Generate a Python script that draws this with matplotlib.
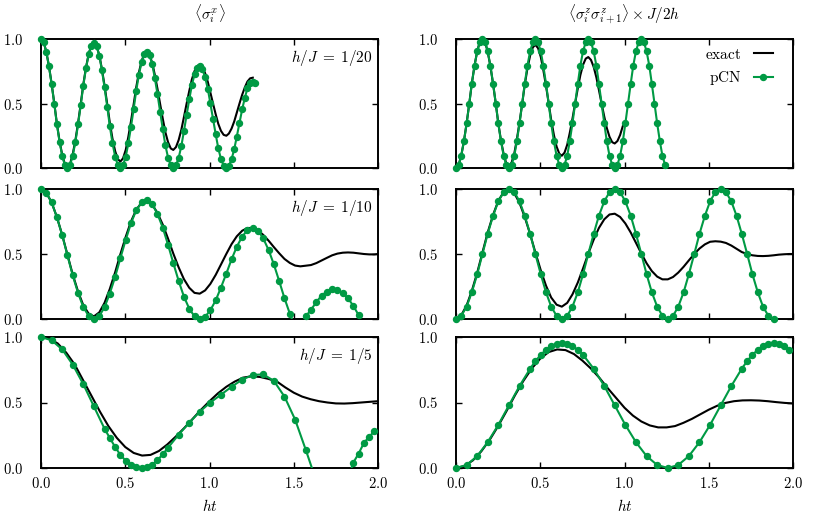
import numpy as np
import matplotlib
matplotlib.use('Agg')
import matplotlib.pyplot as plt
from matplotlib.lines import Line2D

plt.rcParams['mathtext.fontset'] = 'cm'
plt.rcParams['font.family'] = ['DejaVu Serif']

# ---------------- data ----------------
xticks = [0.0, 0.5, 1.0, 1.5, 2.0]
xtick_labels = ['0.0', '0.5', '1.0', '1.5', '2.0']
yticks = [0.0, 0.5, 1.0]
ytick_labels = ['0.0', '0.5', '1.0']
col_titles = [r'$\langle \sigma_i^x \rangle$', r'$\langle \sigma_i^z \sigma_{i+1}^z \rangle \times J/2h$']
row_labels = [r'$h/J\;=\;1/20$', r'$h/J\;=\;1/10$', r'$h/J\;=\;1/5$']
xlabel = r'$ht$'

# h/J = 1/20 : time grid
t20 = [0.000, 0.016, 0.031, 0.047, 0.063, 0.079, 0.094, 0.110, 0.126, 0.141,
       0.157, 0.173, 0.188, 0.204, 0.220, 0.236, 0.251, 0.267, 0.283, 0.298,
       0.314, 0.330, 0.346, 0.361, 0.377, 0.393, 0.408, 0.424, 0.440, 0.456,
       0.471, 0.487, 0.503, 0.518, 0.534, 0.550, 0.565, 0.581, 0.597, 0.613,
       0.628, 0.644, 0.660, 0.675, 0.691, 0.707, 0.723, 0.738, 0.754, 0.770,
       0.785, 0.801, 0.817, 0.833, 0.848, 0.864, 0.880, 0.895, 0.911, 0.927,
       0.942, 0.958, 0.974, 0.990, 1.005, 1.021, 1.037, 1.052, 1.068, 1.084,
       1.100, 1.115, 1.131, 1.147, 1.162, 1.178, 1.194, 1.210, 1.225, 1.241,
       1.257, 1.272]
sx_exact_20 = [1.00, .975, .903, .792, .654, .500, .347, .210, .101, .033,
               .010, .035, .105, .214, .349, .499, .647, .779, .884, .949,
               .970, .944, .875, .770, .640, .496, .355, .229, .131, .069,
               .050, .075, .141, .240, .362, .495, .625, .740, .830, .884,
               .900, .876, .816, .725, .616, .496, .380, .278, .200, .152,
               .140, .162, .217, .297, .393, .498, .598, .685, .751, .791,
               .800, .781, .735, .667, .586, .499, .415, .343, .288, .257,
               .250, .267, .306, .362, .429, .500, .568, .626, .670, .695,
               .700]
sx_pcn_20 = [1.00, .975, .902, .790, .651, .496, .342, .204, .094, .024,
             .000, .024, .093, .202, .338, .489, .639, .774, .881, .948,
             .970, .943, .872, .762, .626, .476, .327, .195, .089, .023,
             .000, .022, .088, .190, .318, .459, .599, .723, .821, .882,
             .900, .873, .805, .701, .575, .436, .299, .177, .081, .020,
             .000, .020, .079, .171, .284, .409, .532, .640, .725, .776,
             .790, .765, .704, .613, .502, .380, .260, .154, .070, .018,
             .000, .017, .068, .147, .244, .350, .455, .546, .617, .660,
             .670, .658]
zz_exact_20 = [0.000, .025, .096, .208, .347, .502, .657, .795, .906, .976,
               1.000, .974, .902, .790, .652, .500, .348, .213, .106, .037,
               .015, .042, .113, .221, .354, .501, .645, .772, .872, .935,
               .955, .929, .862, .761, .638, .503, .372, .256, .166, .111,
               .095, .119, .180, .271, .381, .502, .618, .720, .800, .848,
               .860, .838, .784, .703, .606, .500, .398, .310, .242, .200,
               .190, .209, .256, .325]
zz_pcn_20 = [0.000, .024, .095, .206, .345, .500, .655, .794, .905, .976,
             1.000, .976, .905, .794, .655, .500, .345, .206, .095, .024,
             0.000, .024, .095, .206, .345, .500, .655, .794, .905, .976,
             1.000, .976, .905, .794, .655, .500, .345, .206, .095, .024,
             0.000, .024, .095, .206, .345, .500, .655, .794, .905, .976,
             1.000, .976, .905, .794, .655, .500, .345, .206, .095, .024,
             0.000, .024, .095, .206, .345, .500, .655, .794, .905, .976,
             1.000, .976, .905, .794, .655, .500, .345, .206, .095, .024]

# h/J = 1/10 : time grid
t10 = [0.000, 0.031, 0.063, 0.094, 0.126, 0.157, 0.188, 0.220, 0.251, 0.283,
       0.314, 0.346, 0.377, 0.408, 0.440, 0.471, 0.503, 0.534, 0.565, 0.597,
       0.628, 0.660, 0.691, 0.723, 0.754, 0.785, 0.817, 0.848, 0.880, 0.911,
       0.942, 0.974, 1.005, 1.037, 1.068, 1.100, 1.131, 1.162, 1.194, 1.225,
       1.257, 1.288, 1.319, 1.351, 1.382, 1.414, 1.445, 1.477, 1.508, 1.539,
       1.571, 1.602, 1.634, 1.665, 1.696, 1.728, 1.759, 1.791, 1.822, 1.854,
       1.885, 1.916, 1.948, 1.979, 2.000]
sx_exact_10 = [1.000, .972, .897, .785, .646, .494, .344, .211, .106, .041,
               .020, .051, .124, .230, .359, .498, .633, .750, .840, .895,
               .910, .881, .816, .725, .618, .504, .397, .307, .240, .201,
               .195, .220, .270, .340, .419, .501, .576, .636, .679, .700,
               .700, .681, .647, .602, .553, .505, .462, .431, .411, .405,
               .410, .415, .430, .450, .470, .490, .503, .510, .512, .510,
               .505, .500, .497, .497, .500]
sx_pcn_10 = [1.000, .972, .897, .784, .644, .489, .336, .200, .092, .023,
             .000, .023, .090, .195, .324, .468, .610, .737, .836, .897,
             .915, .883, .809, .701, .571, .431, .293, .173, .079, .020,
             .000, .017, .067, .144, .242, .350, .459, .556, .634, .683,
             .700, .680, .620, .530, .420, .290, .160, .040, -.060, -.050,
             .020, .070, .130, .180, .210, .230, .225, .200, .160, .100,
             .030]
zz_exact_10 = [0.000, .029, .104, .217, .357, .512, .665, .801, .909, .977,
               .995, .968, .893, .784, .653, .512, .375, .257, .165, .110,
               .095, .124, .189, .281, .389, .503, .610, .700, .767, .804,
               .810, .785, .735, .665, .586, .504, .429, .369, .326, .305,
               .305, .323, .357, .402, .451, .500, .542, .574, .594, .598,
               .595, .585, .565, .540, .515, .500, .490, .485, .484, .486,
               .490, .495, .498, .500, .500]
zz_pcn_10 = [0.000, .024, .095, .206, .345, .500, .655, .794, .905, .976,
             1.000, .976, .905, .794, .655, .500, .345, .206, .095, .024,
             0.000, .024, .095, .206, .345, .500, .655, .794, .905, .976,
             1.000, .976, .905, .794, .655, .500, .345, .206, .095, .024,
             0.000, .024, .095, .206, .345, .500, .655, .794, .905, .976,
             1.000, .976, .905, .794, .655, .500, .345, .206, .095, .024,
             0.000]

# h/J = 1/5
t5_exact = [0.00, 0.05, 0.10, 0.15, 0.20, 0.25, 0.30, 0.35, 0.40, 0.45,
            0.50, 0.55, 0.60, 0.65, 0.70, 0.75, 0.80, 0.85, 0.90, 0.95,
            1.00, 1.05, 1.10, 1.15, 1.20, 1.25, 1.30, 1.35, 1.40, 1.45,
            1.50, 1.55, 1.60, 1.65, 1.70, 1.75, 1.80, 1.85, 1.90, 1.95, 2.00]
sx_exact_5 = [1.000, .988, .950, .880, .790, .670, .550, .430, .320, .230,
              .160, .115, .095, .100, .130, .180, .240, .305, .375, .445,
              .510, .570, .620, .660, .690, .700, .695, .680, .660, .615,
              .575, .545, .525, .510, .500, .493, .492, .495, .500, .505, .510]
zz_exact_5 = [0.000, .015, .058, .127, .215, .320, .435, .555, .665, .760,
              .835, .885, .905, .900, .870, .820, .760, .690, .610, .535,
              .460, .400, .355, .325, .310, .310, .320, .345, .375, .410,
              .445, .475, .497, .510, .516, .517, .515, .510, .503, .497, .493]
t5_pcn_x = [0.000, .063, .126, .188, .251, .314, .377, .408, .440, .471,
            .503, .534, .565, .597, .628, .660, .691, .723, .754, .817,
            .880, .942, 1.005, 1.068, 1.131, 1.194, 1.257, 1.319, 1.382, 1.445,
            1.508, 1.571, 1.634, 1.696, 1.759, 1.822, 1.853, 1.885, 1.916, 1.948,
            1.979]
sx_pcn_5 = [1.000, .975, .905, .790, .640, .470, .300, .230, .160, .100,
            .055, .025, .006, .000, .004, .025, .060, .105, .155, .255,
            .345, .430, .500, .560, .620, .675, .710, .715, .665, .545,
            .370, .140, -.100, -.250, -.250, -.080, .040, .110, .190, .240,
            .280]
t5_pcn_z = [0.000, .063, .126, .188, .251, .314, .377, .440, .471, .503,
            .534, .565, .597, .628, .660, .691, .723, .754, .817, .880,
            .942, 1.005, 1.068, 1.131, 1.194, 1.257, 1.319, 1.382, 1.445, 1.508,
            1.571, 1.634, 1.696, 1.728, 1.759, 1.791, 1.822, 1.853, 1.885, 1.916,
            1.948, 1.979]
zz_pcn_5 = [0.000, .023, .091, .197, .329, .478, .626, .758, .816, .864,
            .902, .932, .949, .955, .949, .932, .902, .864, .758, .626,
            .478, .329, .197, .091, .023, .000, .023, .091, .197, .329,
            .478, .626, .758, .816, .864, .902, .932, .949, .955, .949,
            .932, .902]

panels = [
    [(t20, sx_exact_20, t20, sx_pcn_20), (t20, zz_exact_20, t20, zz_pcn_20)],
    [(t10, sx_exact_10, t10, sx_pcn_10), (t10, zz_exact_10, t10, zz_pcn_10)],
    [(t5_exact, sx_exact_5, t5_pcn_x, sx_pcn_5), (t5_exact, zz_exact_5, t5_pcn_z, zz_pcn_5)],
]

# ---------------- style ----------------
GREEN = '#009a44'
W, H = 830, 518
cols = [(41, 378), (456, 793)]
rows = [(39, 168), (189, 319), (337, 468)]

fig = plt.figure(figsize=(W / 100, H / 100), dpi=100)

for r, (top, bot) in enumerate(rows):
    for c, (lft, rgt) in enumerate(cols):
        ax = fig.add_axes([lft / W, 1 - bot / H, (rgt - lft) / W, (bot - top) / H])
        tex, yex, tp, yp = panels[r][c]
        tex = np.asarray(tex[:len(yex)])
        yex = np.asarray(yex)
        yp = np.asarray(yp)
        tp = np.asarray(tp[:len(yp)])
        ax.plot(tex, yex, color='black', lw=1.5, zorder=3)
        ax.plot(tp, yp, color=GREEN, lw=1.5, zorder=4)
        m = yp >= 0
        ax.plot(tp[m], yp[m], ls='none', marker='o', ms=4.3, color=GREEN,
                zorder=5, clip_on=False)
        ax.set_xlim(0, 2)
        ax.set_ylim(0, 1)
        ax.set_xticks(xticks)
        ax.set_yticks(yticks)
        ax.set_yticklabels(['$' + s + '$' for s in ytick_labels], fontsize=10.5)
        if r == 2:
            ax.set_xticklabels(['$' + s + '$' for s in xtick_labels], fontsize=10.5)
            ax.set_xlabel(xlabel, fontsize=11, labelpad=5)
        else:
            ax.set_xticklabels([])
        ax.tick_params(direction='in', top=True, right=True, length=4, width=1.0)
        ax.tick_params(axis='y', pad=13)
        ax.tick_params(axis='x', pad=6)
        for sp in ax.spines.values():
            sp.set_linewidth(1.4)
        if c == 0:
            ax.text(0.985, 0.93, row_labels[r], transform=ax.transAxes,
                    ha='right', va='top', fontsize=11)
        if r == 0:
            ax.set_title(col_titles[c], fontsize=11, pad=14)
        if r == 0 and c == 1:
            h1 = Line2D([], [], color='black', lw=1.5)
            h2 = Line2D([], [], color=GREEN, lw=1.5, marker='o', ms=4.3)
            ax.legend([h1, h2], [r'$\mathrm{exact}$', r'$\mathrm{pCN}$'],
                      loc='upper right', bbox_to_anchor=(0.96, 0.98),
                      markerfirst=False, frameon=False, handlelength=1.3,
                      handletextpad=0.8, fontsize=11, borderaxespad=0.0,
                      labelspacing=0.5)

fig.savefig('out.png', dpi=100)
